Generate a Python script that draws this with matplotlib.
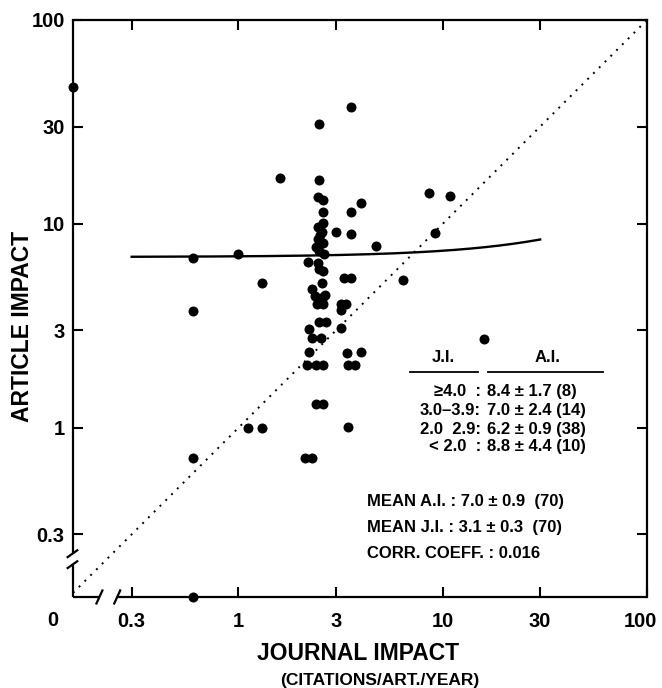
import numpy as np
import matplotlib
matplotlib.use("Agg")
import matplotlib.pyplot as plt
from matplotlib.ticker import FixedLocator, FixedFormatter, NullLocator
from matplotlib.transforms import ScaledTranslation

plt.rcParams['font.family'] = ['Liberation Sans', 'DejaVu Sans']
plt.rcParams['font.weight'] = 'bold'

# journal impact (x) and article impact (y) for the 70 papers, 0 = none
journal_impact = [0, 0.6, 0.6, 0.6, 0.6, 1.0, 1.11, 1.3, 1.3, 1.59,
                  2.47, 2.48, 2.44, 2.60, 2.58, 2.58, 2.44, 2.55, 2.44, 2.58,
                  2.48, 2.63, 2.19, 2.45, 2.48, 2.58, 2.57, 2.30, 2.36, 2.58,
                  2.42, 2.58, 2.48, 2.67, 2.21, 2.30, 2.53, 2.21, 2.17, 2.39,
                  2.60, 2.39, 2.60, 2.11, 2.28, 2.52, 2.40, 2.66,
                  3.56, 3.55, 3.0, 3.55, 3.29, 3.55, 3.17, 3.35, 3.17, 3.17,
                  3.39, 3.42, 3.71, 3.42,
                  4.0, 4.0, 4.7, 6.36, 8.54, 10.8, 9.2, 15.9]
article_impact = [47, 6.8, 3.75, 0.71, 0, 7.1, 1.0, 1.0, 5.1, 16.7,
                  30.9, 16.5, 13.6, 13.1, 11.4, 10.1, 9.7, 9.1, 8.4, 8.1,
                  7.4, 7.1, 6.5, 6.4, 6.0, 5.9, 5.1, 4.8, 4.45, 4.37,
                  4.05, 4.05, 3.3, 3.3, 3.05, 2.76, 2.76, 2.34, 2.03, 2.03,
                  2.03, 1.31, 1.31, 0.71, 0.71, 8.8, 7.7, 4.5,
                  37.6, 11.4, 9.1, 8.9, 5.4, 5.4, 4.05, 4.05, 3.76, 3.07,
                  2.32, 2.03, 2.03, 1.01,
                  12.7, 2.34, 7.8, 5.31, 14.1, 13.7, 9.0, 2.72]

tick_values = [0.3, 1, 3, 10, 30, 100]
tick_labels = ["0.3", "1", "3", "10", "30", "100"]

# regression line  A.I. = a + b * J.I.
fit_a = 6.88
fit_b = 0.05
fit_range = [0.3, 30]

table_ji = ["\u22654.0  :", "3.0\u20133.9:", "2.0  2.9:", "< 2.0  :"]
table_ai = ["8.4 \u00b1 1.7 (8)", "7.0 \u00b1 2.4 (14)", "6.2 \u00b1 0.9 (38)", "8.8 \u00b1 4.4 (10)"]
summary = ["MEAN A.I. : 7.0 \u00b1 0.9  (70)", "MEAN J.I. : 3.1 \u00b1 0.3  (70)", "CORR. COEFF. : 0.016"]

XMIN = 10 ** -0.81
YMIN = 10 ** -0.83

fig = plt.figure(figsize=(6.62, 6.88), dpi=100)
ax = fig.add_axes([0.1103, 0.1323, 0.867, 0.8387])
ax.set_xscale('log')
ax.set_yscale('log')
ax.set_xlim(XMIN, 100)
ax.set_ylim(YMIN, 100)

# zero values sit on the broken axes
x = np.array(journal_impact, dtype=float)
y = np.array(article_impact, dtype=float)
x_plot = np.where(x == 0, XMIN, x)
y_plot = np.where(y == 0, YMIN, y)

ax.plot([XMIN, 100], [XMIN, 100], color='black', lw=1.4, ls=(0, (1, 3.2)))
xs = np.geomspace(fit_range[0], fit_range[1], 200)
ax.plot(xs, fit_a + fit_b * xs, color='black', lw=1.7)
ax.plot(x_plot, y_plot, 'o', color='black', ms=7.2, mew=0, clip_on=False, zorder=4)

# ticks
for axis in (ax.xaxis, ax.yaxis):
    axis.set_major_locator(FixedLocator(tick_values))
    axis.set_major_formatter(FixedFormatter(tick_labels))
    axis.set_minor_locator(NullLocator())
ax.tick_params(direction='in', length=7, width=1.5, top=True, right=True, labelsize=14.5)
ax.tick_params(axis='x', pad=11)
ax.tick_params(axis='y', pad=6)
# pull the last x label ("100") a little inside the figure
last = ax.get_xticklabels()[-1]
last.set_transform(last.get_transform() + ScaledTranslation(-5 / 72, 0, fig.dpi_scale_trans))

# frame with breaks on the left and bottom
ax.spines['left'].set_visible(False)
ax.spines['bottom'].set_visible(False)
for side in ('top', 'right'):
    ax.spines[side].set_linewidth(1.6)
kw = dict(transform=ax.transAxes, color='black', lw=1.6, clip_on=False, solid_capstyle='butt')
ax.plot([0, 0], [1, 0.075], **kw)
ax.plot([0, 0], [0.056, 0], **kw)
ax.plot([-0.011, 0.009], [0.068, 0.082], **kw)
ax.plot([-0.011, 0.009], [0.049, 0.063], **kw)
ax.plot([0, 0.045], [0, 0], **kw)
ax.plot([0.077, 1], [0, 0], **kw)
ax.plot([0.040, 0.052], [-0.013, 0.013], **kw)
ax.plot([0.071, 0.083], [-0.013, 0.013], **kw)
ax.text(-0.035, -0.04, "0", transform=ax.transAxes, ha='center', va='center', fontsize=14.5)

# axis titles
fig.text(0.034, 1 - 326 / 688, "ARTICLE IMPACT", rotation=90, ha='center', va='center', fontsize=16.5)
fig.text(358 / 662, 1 - 653 / 688, "JOURNAL IMPACT", ha='center', va='center', fontsize=16.5)
fig.text(380 / 662, 1 - 680 / 688, "(CITATIONS/ART./YEAR)", ha='center', va='center', fontsize=12.5)

# summary table
ax.text(0.645, 0.402, "J.I.", transform=ax.transAxes, ha='center', va='bottom', fontsize=12)
ax.text(0.826, 0.402, "A.I.", transform=ax.transAxes, ha='center', va='bottom', fontsize=12)
ax.plot([0.587, 0.706], [0.39, 0.39], transform=ax.transAxes, color='black', lw=1.3)
ax.plot([0.723, 0.923], [0.39, 0.39], transform=ax.transAxes, color='black', lw=1.3)
row_y = [0.356, 0.324, 0.291, 0.261]
for ji, ai, yy in zip(table_ji, table_ai, row_y):
    ax.text(0.711, yy, ji, transform=ax.transAxes, ha='right', va='center', fontsize=12)
    ax.text(0.721, yy, ai, transform=ax.transAxes, ha='left', va='center', fontsize=12)
for line, yy in zip(summary, [0.165, 0.12, 0.076]):
    ax.text(0.5115, yy, line, transform=ax.transAxes, ha='left', va='center', fontsize=12)

fig.savefig("out.png", dpi=100)
